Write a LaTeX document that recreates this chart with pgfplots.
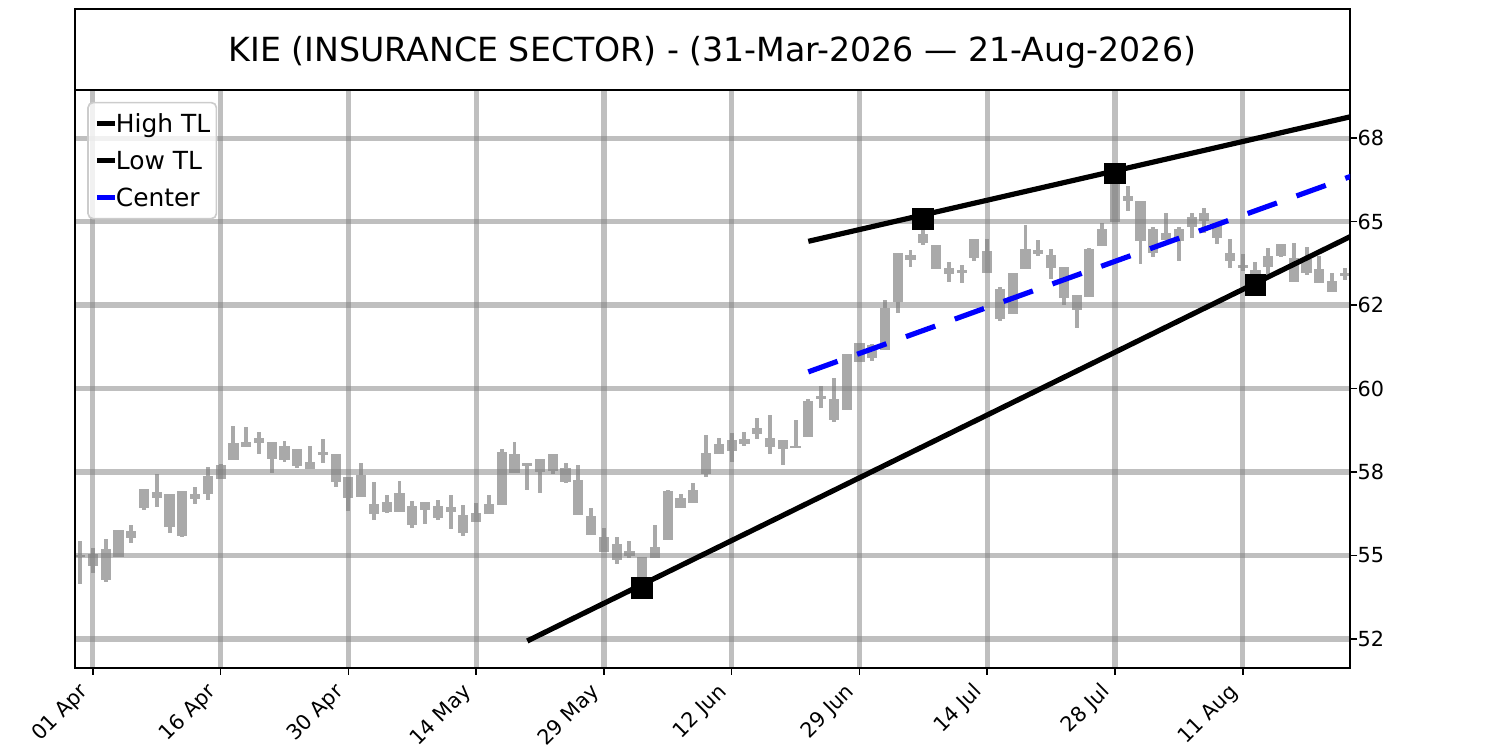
\documentclass[border=0pt]{standalone}
\usepackage{pgfplots}
\pgfplotsset{compat=1.18}
\usepackage{pgfplotstable}
\usepackage{fontspec}
\setmainfont{DejaVu Sans}
\definecolor{candle}{HTML}{A9A9A9}

\pgfplotstableread{
i bl bh wl wh
0 54.95 55.02 54.15 55.43
1 54.69 55.04 54.49 55.23
2 54.26 55.19 54.22 55.49
3 54.96 55.76 54.96 55.76
4 55.51 55.73 55.37 55.90
5 56.43 56.98 56.36 56.98
6 56.71 56.90 56.46 57.43
7 55.86 56.83 55.68 56.83
8 55.60 56.93 55.55 56.93
9 56.70 56.83 56.55 57.05
10 56.83 57.38 56.66 57.65
11 57.30 57.70 57.28 57.73
12 57.85 58.36 57.85 58.88
13 58.25 58.40 58.25 58.85
14 58.36 58.53 58.05 58.70
15 57.88 58.40 57.46 58.40
16 57.85 58.28 57.81 58.43
17 57.68 58.20 57.61 58.20
18 57.58 57.80 57.58 58.28
19 58.00 58.11 57.78 58.48
20 57.20 58.03 57.06 58.03
21 56.73 57.36 56.33 57.36
22 56.76 57.40 56.76 57.78
23 56.23 56.53 56.05 57.20
24 56.31 56.61 56.28 56.80
25 56.31 56.86 56.31 57.23
26 55.90 56.48 55.83 56.63
27 56.35 56.60 55.93 56.60
28 56.13 56.48 56.05 56.65
29 56.30 56.46 55.80 56.80
30 55.68 56.20 55.57 56.50
31 56.00 56.26 56.00 56.56
32 56.23 56.53 56.23 56.80
33 56.50 58.10 56.50 58.18
34 57.48 58.05 57.48 58.40
35 57.68 57.78 56.96 57.78
36 57.50 57.88 56.88 57.88
37 57.53 58.03 57.45 58.03
38 57.21 57.63 57.18 57.78
39 56.21 57.26 56.21 57.71
40 55.63 56.18 55.63 56.41
41 55.11 55.55 55.11 55.81
42 54.86 55.35 54.75 55.57
43 55.00 55.13 54.93 55.43
44 54.10 54.96 54.05 54.96
45 54.94 55.25 54.94 55.91
46 55.46 56.93 55.46 56.96
47 56.43 56.73 56.43 56.83
48 56.58 56.96 56.58 57.18
49 57.43 58.08 57.36 58.61
50 58.05 58.33 58.05 58.53
51 58.13 58.45 57.80 58.68
52 58.33 58.48 58.28 58.70
53 58.63 58.83 58.48 59.11
54 58.25 58.53 58.05 59.21
55 58.18 58.45 57.71 58.45
56 58.21 58.28 58.21 59.07
57 58.55 59.63 58.55 59.68
58 59.68 59.78 59.41 60.07
59 59.07 59.68 59.01 60.33
60 59.36 61.04 59.36 61.04
61 60.80 61.37 60.80 61.37
62 60.92 61.32 60.84 61.34
63 61.15 62.40 61.15 62.64
64 62.60 64.07 62.27 64.07
65 63.84 64.00 63.64 64.14
66 64.35 64.62 64.30 65.07
67 63.57 64.29 63.57 64.29
68 63.42 63.60 63.20 63.79
69 63.45 63.55 63.15 63.70
70 63.90 64.47 63.82 64.47
71 63.45 64.11 63.45 64.47
72 62.09 62.97 62.02 63.04
73 62.24 63.47 62.24 63.47
74 63.57 64.17 63.57 64.90
75 64.04 64.14 63.97 64.44
76 63.62 63.99 63.27 64.17
77 62.70 63.65 62.50 63.65
78 62.35 62.79 61.80 62.79
79 62.74 64.17 62.74 64.20
80 64.27 64.77 64.27 64.97
81 64.99 66.36 64.99 66.42
82 65.63 65.76 65.33 66.06
83 64.42 65.63 63.74 65.63
84 64.07 64.77 63.95 64.85
85 64.44 64.67 64.44 65.27
86 64.42 64.77 63.82 64.84
87 64.83 65.13 64.52 65.26
88 65.01 65.26 64.67 65.41
89 64.52 64.97 64.32 64.97
90 63.82 64.07 63.62 64.47
91 63.60 63.70 63.52 64.02
92 63.30 63.55 63.07 63.79
93 63.64 63.97 63.32 64.20
94 63.97 64.32 63.94 64.34
95 63.20 63.92 63.20 64.37
96 63.47 63.87 63.40 64.24
97 63.17 63.57 63.17 63.97
98 62.89 63.22 62.89 63.47
99 63.37 63.47 63.24 63.62
}\candles

\begin{document}
\begin{tikzpicture}
\path (0,0) rectangle (10in,5in);
\begin{axis}[
  set layers,
  at={(0.5in,0.5487in)}, anchor=south west,
  width=8.5in, height=3.853in, scale only axis,
  xmin=-0.4, xmax=99.4, ymin=51.64, ymax=68.95,
  xtick={1,11,...,91},
  xticklabels={01 Apr,16 Apr,30 Apr,14 May,29 May,12 Jun,29 Jun,14 Jul,28 Jul,11 Aug},
  ytick={52.5,55,57.5,60,62.5,65,67.5},
  yticklabels={52,55,58,60,62,65,68},
  xtick pos=left, ytick pos=right, yticklabel pos=right,
  tick align=outside, major tick length=3.5pt,
  tick style={black, line width=0.8pt},
  axis line style={line width=0.8pt, black},
  grid=major, major grid style={draw=gray, opacity=0.5, line width=2.5pt},
  tick label style={font=\fontsize{10}{12}\selectfont},
  xticklabel style={yshift=-10.3pt, rotate=45, anchor=south east, inner sep=0pt,
    text height=7.6pt, text depth=2.4pt},
  yticklabel style={anchor=west, inner sep=0pt},
  legend cell align=left,
  legend image code/.code={\draw[#1] (0pt,0pt) -- (8.7pt,0pt);},
  legend style={at={(0,1)}, anchor=north west, xshift=5.9pt, yshift=-5.8pt,
    font=\fontsize{12}{14}\selectfont, draw=black!20, line width=0.8pt,
    rounded corners=2.4pt, fill=white, fill opacity=0.8, text opacity=1,
    inner xsep=3pt, inner ysep=1.4pt, row sep=0pt, column sep=-0.8pt,
    nodes={inner sep=0pt, text height=13.2pt, text depth=4.5pt}},
]
% wicks
\addplot[forget plot, draw=none, mark=none, on layer=axis background,
  error bars/.cd, y dir=both, y explicit, error mark=none,
  error bar style={draw=candle, line width=1.9pt}]
  table[x=i, y expr={(\thisrow{wl}+\thisrow{wh})/2}, y error expr={(\thisrow{wh}-\thisrow{wl})/2}] {\candles};
% bodies
\addplot[forget plot, draw=none, mark=none, on layer=axis background,
  error bars/.cd, y dir=both, y explicit, error mark=none,
  error bar style={draw=candle, line width=4.9pt}]
  table[x=i, y expr={(\thisrow{bl}+\thisrow{bh})/2}, y error expr={(\thisrow{bh}-\thisrow{bl})/2}] {\candles};

\addplot[black, line width=2.5pt] coordinates {(57,64.41) (100,68.19)};
\addlegendentry{High TL}
\addplot[black, line width=2.5pt] coordinates {(35,52.44) (100,64.66)};
\addlegendentry{Low TL}
\addplot[blue, line width=2.5pt, dash pattern=on 15pt off 10pt] coordinates {(57,60.50) (100,66.43)};
\addlegendentry{Center}

\addplot[forget plot, only marks, mark=square*, mark size=5pt,
  mark options={fill=black, draw=black, line width=0.5pt, solid}]
  coordinates {(44,54.03) (92,63.09) (66,65.09) (81,66.44)};
\end{axis}
\draw[line width=0.8pt] (0.5in,4.402in) rectangle (9in,4.94in);
\node[anchor=base, font=\fontsize{16}{19}\selectfont, inner sep=0pt] at (4.75in,4.593in)
  {KIE (INSURANCE SECTOR) - (31-Mar-2026 — 21-Aug-2026)};
\end{tikzpicture}
\end{document}
